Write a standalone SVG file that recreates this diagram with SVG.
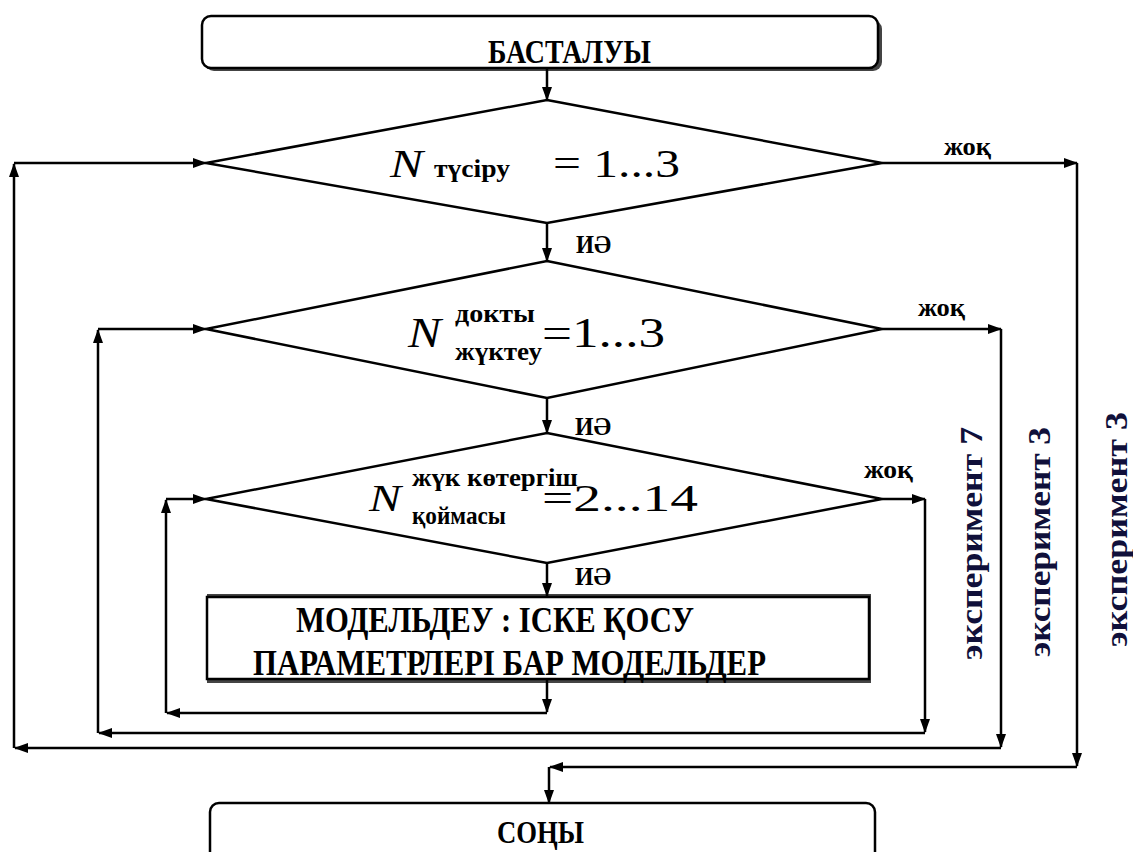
<svg xmlns="http://www.w3.org/2000/svg" width="1133" height="852" viewBox="0 0 1133 852">
<defs>
<marker id="ah" markerWidth="14" markerHeight="10" refX="13" refY="5" orient="auto" markerUnits="userSpaceOnUse"><path d="M0,0 L14,5 L0,10 z" fill="#000"/></marker>
<style>
.shape{fill:#fff;stroke:#000;stroke-width:2.5}
.shadow{fill:#444;stroke:none}
.conn line{stroke:#000;stroke-width:2.5;marker-end:url(#ah)}
</style>
</defs>
<rect width="1133" height="852" fill="#fff"/>

<g font-family="Liberation Serif, serif" fill="#000">

<g id="start">
<rect class="shadow" x="205" y="20" width="677" height="51" rx="9"/>
<rect class="shape" x="202" y="16" width="676" height="52" rx="9"/>
<text x="488" y="63" font-size="33" font-weight="bold" textLength="163" lengthAdjust="spacingAndGlyphs">БАСТАЛУЫ</text>
</g>

<g id="d1">
<polygon class="shape" points="547,100 882,163 547,223 206,163"/>
<text x="390" y="177" font-size="40" font-style="italic" textLength="33" lengthAdjust="spacingAndGlyphs">N</text>
<text x="434" y="177" font-size="26" font-weight="bold" textLength="76" lengthAdjust="spacingAndGlyphs">түсіру</text>
<text x="553" y="177" font-size="40" textLength="127" lengthAdjust="spacingAndGlyphs">= 1...3</text>
</g>

<g id="d2">
<polygon class="shape" points="547,261 882,329 547,398 206,329"/>
<text x="408" y="347" font-size="42" font-style="italic" textLength="33" lengthAdjust="spacingAndGlyphs">N</text>
<text x="455" y="322" font-size="25" font-weight="bold" textLength="80" lengthAdjust="spacingAndGlyphs">докты</text>
<text x="455" y="360" font-size="25" font-weight="bold" textLength="87" lengthAdjust="spacingAndGlyphs">жүктеу</text>
<text x="542" y="347" font-size="42" textLength="123" lengthAdjust="spacingAndGlyphs">=1...3</text>
</g>

<g id="d3">
<polygon class="shape" points="547,433 882,499 547,563 206,499"/>
<text x="369" y="511" font-size="38" font-style="italic" textLength="32" lengthAdjust="spacingAndGlyphs">N</text>
<text x="412" y="486" font-size="25" font-weight="bold" textLength="166" lengthAdjust="spacingAndGlyphs">жүк көтергіш</text>
<text x="412" y="524" font-size="25" font-weight="bold" textLength="94" lengthAdjust="spacingAndGlyphs">қоймасы</text>
<text x="542" y="511" font-size="38" textLength="156" lengthAdjust="spacingAndGlyphs">=2...14</text>
</g>

<g id="process">
<rect class="shadow" x="207" y="594" width="664" height="89"/>
<rect class="shape" x="207" y="597" width="662" height="82" stroke-width="2"/>
<text x="296" y="632" font-size="35" font-weight="bold" textLength="398" lengthAdjust="spacingAndGlyphs">МОДЕЛЬДЕУ : ІСКЕ ҚОСУ</text>
<text x="253" y="675" font-size="35" font-weight="bold" textLength="513" lengthAdjust="spacingAndGlyphs">ПАРАМЕТРЛЕРІ БАР МОДЕЛЬДЕР</text>
</g>

<g id="end">
<rect class="shape" x="210" y="803" width="665" height="70" rx="9"/>
<text x="497" y="843" font-size="32" font-weight="bold" textLength="87" lengthAdjust="spacingAndGlyphs">СОҢЫ</text>
</g>

<g id="connectors" class="conn">
<line x1="547" y1="68" x2="547" y2="100"/>
<line x1="547" y1="223" x2="547" y2="261"/>
<line x1="547" y1="398" x2="547" y2="433"/>
<line x1="547" y1="563" x2="547" y2="596"/>
<line x1="547" y1="680" x2="547" y2="712"/>
<line x1="547" y1="713" x2="167" y2="713"/>
<line x1="166" y1="713" x2="166" y2="500"/>
<line x1="166" y1="499" x2="206" y2="499"/>
<line x1="882" y1="499" x2="925" y2="499"/>
<line x1="925" y1="499" x2="925" y2="732"/>
<line x1="925" y1="733" x2="99" y2="733"/>
<line x1="98" y1="733" x2="98" y2="330"/>
<line x1="98" y1="329" x2="206" y2="329"/>
<line x1="882" y1="329" x2="1001" y2="329"/>
<line x1="1001" y1="329" x2="1001" y2="747"/>
<line x1="1001" y1="748" x2="15" y2="748"/>
<line x1="14" y1="748" x2="14" y2="164"/>
<line x1="14" y1="163" x2="206" y2="163"/>
<line x1="882" y1="163" x2="1077" y2="163"/>
<line x1="1077" y1="163" x2="1077" y2="766"/>
<line x1="1077" y1="767" x2="550" y2="767"/>
<line x1="549" y1="767" x2="549" y2="803"/>
</g>

<g id="labels" font-weight="bold" font-size="26">
<text x="944" y="155" textLength="47" lengthAdjust="spacingAndGlyphs">жоқ</text>
<text x="918" y="316" textLength="47" lengthAdjust="spacingAndGlyphs">жоқ</text>
<text x="864" y="478" textLength="49" lengthAdjust="spacingAndGlyphs">жоқ</text>
<text x="576" y="253" textLength="35" lengthAdjust="spacingAndGlyphs">ИӘ</text>
<text x="575" y="435" textLength="36" lengthAdjust="spacingAndGlyphs">ИӘ</text>
<text x="575" y="585" textLength="36" lengthAdjust="spacingAndGlyphs">ИӘ</text>
<g fill="#10103a" font-size="31">
<text transform="translate(982,660) rotate(-90)" textLength="233" lengthAdjust="spacingAndGlyphs">эксперимент 7</text>
<text transform="translate(1050,657) rotate(-90)" textLength="230" lengthAdjust="spacingAndGlyphs">эксперимент 3</text>
<text transform="translate(1127,647) rotate(-90)" textLength="235" lengthAdjust="spacingAndGlyphs">эксперимент 3</text>
</g>
</g>

</g>
</svg>
